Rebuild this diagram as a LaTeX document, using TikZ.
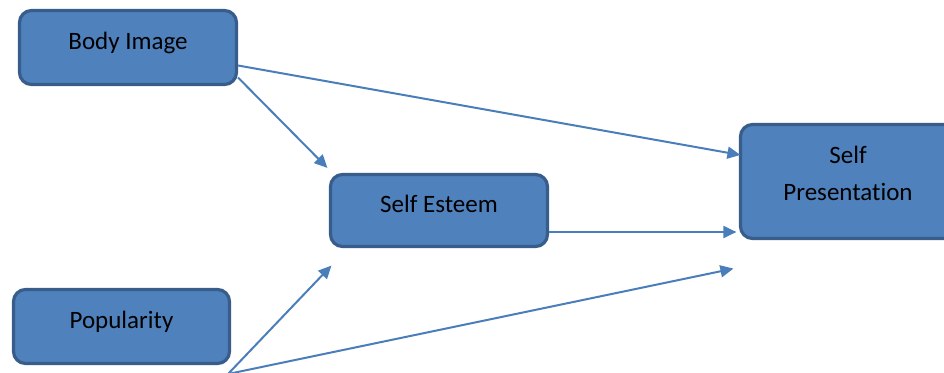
\documentclass[tikz,border=0pt]{standalone}
\usepackage{fontspec}
\setmainfont{Carlito}[Ligatures=NoCommon]
\usetikzlibrary{arrows.meta}
\definecolor{boxfill}{HTML}{4F81BD}
\definecolor{boxline}{HTML}{385D8A}
\definecolor{arrowc}{HTML}{4A7EBB}
\begin{document}
\begin{tikzpicture}[x=1pt,y=-1pt,
  box/.style={draw=boxline, fill=boxfill, line width=3.2pt, rounded corners=12pt,
    inner sep=0pt, text=black, font=\fontsize{25}{37}\selectfont,
    text height=17pt, text depth=14pt},
  conn/.style={draw=arrowc, line width=2pt, -{Triangle[length=13pt,width=12pt]}}]
\useasboundingbox (0,0) rectangle (944,372);
\node[box, minimum width=217pt, minimum height=74pt] (bi) at (128,47.5) {Body Image};
\node[box, minimum width=217pt, minimum height=72pt] (se) at (439,210.5) {Self Esteem};
\node[box, minimum width=216pt, minimum height=74pt] (pop) at (121.5,326.5) {Popularity};
\node[box, minimum width=215pt, minimum height=114pt, align=center, text height=38pt, text depth=-4pt] (sp) at (848,181.5) {Self\\Presentat\kern0pt ion};
\coordinate (p0) at (228,374);
\draw[conn] ([yshift=-18pt]bi.east) -- ([xshift=1.5pt,yshift=26.5pt]sp.west);
\draw[conn] ([yshift=8.5pt]bi.south east) -- ([xshift=-1.5pt,yshift=5pt]se.north west);
\draw[conn] ([yshift=-21.5pt]se.east) -- ([xshift=-2.5pt,yshift=-50.5pt]sp.west);
\draw[conn] (p0) -- ([xshift=2.5pt,yshift=-17.5pt]se.south west);
\draw[conn] (p0) -- ([xshift=-5.5pt,yshift=-28.5pt]sp.south west);
\end{tikzpicture}
\end{document}
